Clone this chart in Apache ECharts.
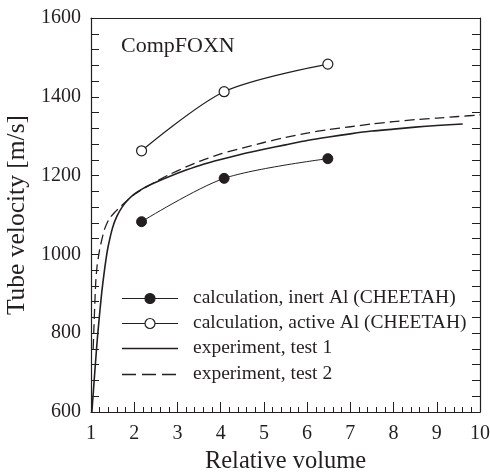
<!DOCTYPE html>
<html>
<head>
<meta charset="utf-8">
<script src="https://cdn.jsdelivr.net/npm/echarts@6/dist/echarts.min.js"></script>
<style>html,body{margin:0;padding:0;background:#fff}#c{width:490px;height:473px}</style>
</head>
<body>
<div id="c"></div>
<script>
const seriesNames = [
  'calculation, inert Al (CHEETAH)',
  'calculation, active Al (CHEETAH)',
  'experiment, test 1',
  'experiment, test 2'
];
const inertAl = [[2.17, 1083], [4.08, 1193], [6.48, 1243]];
const activeAl = [[2.17, 1263], [4.08, 1413], [6.48, 1483]];
const test1 = [[1.02, 600], [1.06, 660], [1.1, 720], [1.15, 790], [1.2, 850], [1.25, 905], [1.3, 950], [1.35, 990], [1.4, 1022], [1.5, 1068], [1.6, 1097], [1.72, 1120], [1.85, 1138], [2.0, 1153], [2.2, 1167], [2.5, 1183], [2.8, 1197], [3.2, 1214], [3.6, 1229], [4.0, 1241], [4.5, 1255], [5.0, 1267], [5.5, 1278], [6.0, 1289], [6.5, 1298], [7.0, 1306], [7.5, 1313], [8.0, 1318], [8.5, 1323], [9.0, 1327], [9.6, 1331]];
const test2 = [[1.05, 760], [1.07, 820], [1.09, 880], [1.11, 930], [1.14, 970], [1.2, 1012], [1.26, 1042], [1.32, 1066], [1.42, 1090], [1.55, 1107], [1.7, 1123], [1.85, 1138], [2.0, 1152], [2.2, 1166], [2.5, 1185], [2.8, 1202], [3.2, 1222], [3.6, 1240], [4.0, 1255], [4.5, 1270], [5.0, 1284], [5.5, 1297], [6.0, 1308], [6.5, 1317], [7.0, 1324], [7.5, 1331], [8.0, 1337], [8.5, 1342], [9.0, 1346], [9.5, 1350], [10, 1354]];
const xTicks = [1, 2, 3, 4, 5, 6, 7, 8, 9, 10];
const yTicks = [600, 800, 1000, 1200, 1400, 1600];
const plotLabel = 'CompFOXN';

const font = '"Liberation Serif", "Times New Roman", serif';
const ink = '#231f20';

// legend drawn as graphic (icons + text)
const legendRows = [298, 323, 348, 374];
const legendGraphic = [];
legendRows.forEach((y, i) => {
  const dash = i === 3 ? [14, 6] : null;
  legendGraphic.push({
    type: 'line', shape: { x1: 122, y1: y + 0.5, x2: 178, y2: y + 0.5 },
    style: { stroke: ink, lineWidth: i >= 2 ? 1.5 : 1.2, lineDash: dash }
  });
  if (i < 2) {
    legendGraphic.push({
      type: 'circle', shape: { cx: 150, cy: y + 0.5, r: 5 },
      style: { fill: i === 0 ? ink : '#fff', stroke: ink, lineWidth: 1.2 }
    });
  }
  legendGraphic.push({
    type: 'text', x: 193, y: y,
    style: { text: seriesNames[i], font: '19.5px ' + font, fill: ink, textVerticalAlign: 'middle', verticalAlign: 'middle' }
  });
});

const chart = echarts.init(document.getElementById('c'));
chart.setOption({
  animation: false,
  backgroundColor: '#fff',
  textStyle: { fontFamily: font, color: ink },
  grid: { left: 91, right: 10, top: 18, bottom: 61, show: false, containLabel: false, outerBoundsMode: 'none' },
  title: { text: plotLabel, left: 116, top: 30, textStyle: { fontFamily: font, fontWeight: 'normal', fontSize: 22, color: ink } },
  graphic: legendGraphic,
  xAxis: [{
    type: 'value', min: xTicks[0], max: xTicks[xTicks.length - 1], interval: 1,
    name: 'Relative volume', nameLocation: 'middle', nameGap: 34,
    nameTextStyle: { fontFamily: font, fontSize: 24.5, color: ink },
    axisLine: { lineStyle: { color: ink, width: 1.2 } },
    axisTick: { inside: true, length: 10, lineStyle: { color: ink } },
    minorTick: { show: true, splitNumber: 5, length: 5, lineStyle: { color: ink } },
    axisLabel: { fontFamily: font, fontSize: 20, color: ink, margin: 12 },
    splitLine: { show: false }
  }, {
    type: 'value', position: 'top', min: 1, max: 10,
    axisLine: { lineStyle: { color: ink, width: 1.2 } },
    axisTick: { show: false }, axisLabel: { show: false }, splitLine: { show: false }
  }],
  yAxis: [{
    type: 'value', min: yTicks[0], max: yTicks[yTicks.length - 1], interval: 200,
    name: 'Tube velocity [m/s]', nameLocation: 'middle', nameGap: 60,
    nameTextStyle: { fontFamily: font, fontSize: 25.5, color: ink },
    axisLine: { show: true, lineStyle: { color: ink, width: 1.2 } },
    axisTick: { show: true, inside: true, length: 8, lineStyle: { color: ink } },
    minorTick: { show: true, splitNumber: 5, length: 8, lineStyle: { color: ink } },
    axisLabel: { fontFamily: font, fontSize: 20, color: ink, margin: 10, formatter: v => String(v) },
    splitLine: { show: false }
  }, {
    type: 'value', position: 'right', min: 600, max: 1600, interval: 200,
    axisLine: { show: true, lineStyle: { color: ink, width: 1.2 } },
    axisTick: { show: true, inside: true, length: 8, lineStyle: { color: ink } },
    minorTick: { show: true, splitNumber: 5, length: 8, lineStyle: { color: ink } },
    axisLabel: { show: false }, splitLine: { show: false }
  }],
  series: [{
    name: seriesNames[0], type: 'line', data: inertAl, smooth: 0.3,
    symbol: 'circle', symbolSize: 10,
    itemStyle: { color: ink, borderColor: ink, borderWidth: 1 },
    lineStyle: { color: ink, width: 1 }
  }, {
    name: seriesNames[1], type: 'line', data: activeAl, smooth: 0.3,
    symbol: 'circle', symbolSize: 10,
    itemStyle: { color: '#fff', borderColor: ink, borderWidth: 1.2 },
    lineStyle: { color: ink, width: 1.2 }
  }, {
    name: seriesNames[2], type: 'line', data: test1, smooth: 0.2,
    symbol: 'none', lineStyle: { color: ink, width: 1.6 }, itemStyle: { color: ink }
  }, {
    name: seriesNames[3], type: 'line', data: test2, smooth: 0.2,
    symbol: 'none', lineStyle: { color: ink, width: 1.3, type: [10, 5] }, itemStyle: { color: ink }
  }]
});
</script>
</body>
</html>
